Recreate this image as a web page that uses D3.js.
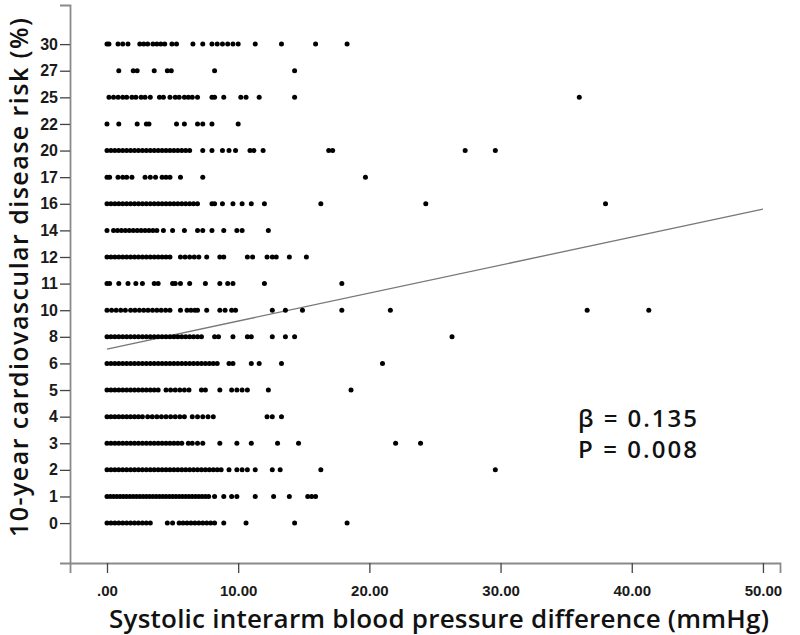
<!DOCTYPE html>
<html><head><meta charset="utf-8">
<script src="https://cdn.jsdelivr.net/npm/d3@7"></script>
<style>body{margin:0;background:#fff}</style>
</head><body>
<script>
const riskLevels = ["0","1","2","3","4","5","6","8","10","11","12","14","16","17","20","22","25","27","30"];
const xTickValues = [0,10,20,30,40,50];
const xTickLabels = [".00","10.00","20.00","30.00","40.00","50.00"];
// interarm difference values for each risk level (same order as riskLevels)
const diffByRisk = [
  [0,0.3,0.6,0.9,1.2,1.5,1.8,2.1,2.4,2.7,3.0,3.3,4.6,5.0,5.5,5.8,6.1,6.4,6.7,7.0,7.3,7.6,7.9,8.2,8.9,10.6,14.3,18.3],
  [0,0.25,0.5,0.75,1,1.25,1.5,1.75,2,2.25,2.5,2.75,3,3.25,3.5,3.75,4,4.25,4.5,4.75,5,5.25,5.5,5.75,6,6.25,6.5,6.75,7,7.25,7.5,7.75,8.2,8.9,9.5,9.9,11.3,12.7,13.9,15.3,15.6,15.9],
  [0,0.3,0.6,0.9,1.2,1.5,1.8,2.1,2.4,2.7,3,3.3,3.6,3.9,4.2,4.5,4.8,5.1,5.4,5.7,6,6.3,6.6,6.9,7.2,7.5,7.8,8.1,8.4,8.7,9.3,9.9,10.3,10.7,11.3,12.6,13.2,16.3,29.6],
  [0,0.3,0.6,0.9,1.2,1.5,1.8,2.1,2.4,2.7,3,3.3,3.6,3.9,4.2,4.5,4.8,5.1,5.4,5.7,6.2,6.5,6.9,7.3,8.6,9.9,11.0,13.0,14.6,22.0,23.9],
  [0,0.3,0.6,0.9,1.2,1.5,1.8,2.1,2.4,2.7,3.1,3.45,3.8,4.15,4.5,4.85,5.2,5.55,5.9,6.5,6.9,7.3,7.7,8.1,12.2,12.6,13.3],
  [0,0.3,0.6,0.9,1.2,1.5,1.8,2.1,2.4,2.7,3,3.3,3.6,3.9,4.5,4.85,5.2,5.55,5.9,6.25,7.2,7.5,8.6,9.5,9.9,10.3,10.7,12.3,18.6],
  [0,0.3,0.6,0.9,1.2,1.5,1.8,2.1,2.4,2.7,3,3.3,3.6,3.9,4.2,4.5,4.8,5.1,5.4,5.7,6,6.3,6.6,6.9,7.2,7.5,7.8,8.1,8.4,9.3,9.6,11.0,11.6,13.3,21.0],
  [0,0.3,0.6,0.9,1.2,1.5,1.8,2.1,2.4,2.7,3,3.3,3.6,3.9,4.2,4.5,4.8,5.1,5.4,5.7,6,6.3,6.6,6.9,7.2,8.2,8.5,9.6,10.7,11.0,12.6,13.6,14.3,26.3],
  [0,0.35,0.7,1.05,1.4,1.8,2.13,2.47,2.8,3.13,3.47,3.8,4.13,4.47,4.8,5.6,6.1,6.4,6.7,6.9,7.6,8.6,9.0,9.5,9.8,12.6,13.6,14.9,17.9,21.6,36.6,41.3],
  [0,0.2,0.9,1.6,2.2,2.7,3.6,3.9,5.0,5.2,5.6,6.3,7.5,8.6,9.2,9.6,12.0,17.9],
  [0,0.3,0.6,0.9,1.2,1.5,1.8,2.1,2.4,2.7,3,3.3,3.6,3.9,4.2,4.5,4.8,5.6,5.95,6.3,6.65,7.0,7.6,8.6,8.9,10.7,11.1,12.2,12.6,12.9,13.9,15.2],
  [0,0.5,0.8,1.1,1.4,1.7,2.0,2.3,2.6,2.9,3.2,3.5,3.8,4.3,5.0,5.9,6.9,7.3,8.0,8.9,9.9,10.3,12.3],
  [0,0.3,0.6,0.9,1.2,1.5,1.8,2.1,2.4,2.7,3,3.3,3.6,3.9,4.2,4.5,4.8,5.1,5.4,5.7,6,6.3,6.6,6.9,8.0,8.2,8.8,9.6,10.3,11.0,12.0,16.3,24.3,38.0],
  [0,0.2,0.84,1.2,1.5,1.9,2.9,3.3,3.7,4.2,4.5,4.8,5.6,7.3,19.7],
  [0,0.3,0.6,0.9,1.2,1.5,1.8,2.1,2.4,2.7,3,3.3,3.6,3.9,4.2,4.5,4.8,5.1,5.4,5.7,6,6.3,7.3,8.0,8.8,9.3,9.8,10.9,11.2,11.9,16.9,17.2,27.3,29.6],
  [0,0.9,2.3,3.0,3.2,5.3,5.9,6.9,7.3,8.0,10.0],
  [0.15,0.5,0.85,1.2,1.5,1.9,2.2,2.6,2.9,3.3,4.0,4.3,4.8,5.2,5.5,5.9,6.2,6.5,6.9,8.0,8.2,8.9,10.2,10.6,11.6,14.3,36.0],
  [0.9,2.0,2.3,3.6,4.6,4.9,8.2,14.3],
  [0,0.15,0.84,1.2,1.6,2.5,2.8,3.1,3.5,3.8,4.1,4.4,4.95,5.3,6.55,7.3,8.0,8.4,8.8,9.2,9.6,10.0,11.3,13.3,15.9,18.3]
];
// fit line endpoints (x value, y on rank scale)
const fitX = [0, 50];
const fitY = [6.54, 11.8];
const statLines = ["β = 0.135", "P = 0.008"];

const W = 800, H = 635;
const svg = d3.select("body").append("svg").attr("width", W).attr("height", H)
  .style("background", "#fff");

const x = d3.scaleLinear().domain([-2.82, 51.3]).range([70, 780]);
const y = d3.scaleLinear().domain([-1.5, 19.47]).range([563, 5]);

const axisColor = "#8a8a8a";
const tickFont = "'Liberation Sans', Arial, sans-serif";
const titleFont = "'Open Sans', 'Noto Sans', sans-serif";

// x axis
const gx = svg.append("g").attr("transform", "translate(0,563)")
  .call(d3.axisBottom(x).tickValues(xTickValues)
    .tickFormat((d, i) => xTickLabels[i]).tickSizeOuter(0).tickSize(10).tickPadding(12));
gx.select(".domain").attr("stroke", axisColor).attr("stroke-width", 1.8);
gx.selectAll(".tick line").attr("stroke", "#444").attr("stroke-width", 1.3);
gx.selectAll(".tick text").attr("fill", "#1a1a1a").style("font-family", tickFont)
  .style("font-size", "15px").style("font-weight", "bold");

// y axis
const gy = svg.append("g").attr("transform", "translate(70,0)")
  .call(d3.axisLeft(y).tickValues(d3.range(riskLevels.length))
    .tickFormat(i => riskLevels[i]).tickSizeOuter(0).tickSize(10).tickPadding(2));
gy.select(".domain").attr("stroke", axisColor).attr("stroke-width", 1.8);
gy.selectAll(".tick line").attr("stroke", "#444").attr("stroke-width", 1.3);
gy.selectAll(".tick text").attr("fill", "#1a1a1a").style("font-family", tickFont)
  .style("font-size", "16px").style("font-weight", "bold");

// fit line
svg.append("line")
  .attr("x1", x(fitX[0])).attr("y1", y(fitY[0]))
  .attr("x2", x(fitX[1])).attr("y2", y(fitY[1]))
  .attr("stroke", "#777").attr("stroke-width", 1.3);

// points
const pts = [];
diffByRisk.forEach((arr, i) => arr.forEach(v => pts.push({v, i})));
svg.append("g").selectAll("circle").data(pts).join("circle")
  .attr("cx", d => x(d.v)).attr("cy", d => y(d.i)).attr("r", 2.5).attr("fill", "#000");

// stats text
svg.append("g").selectAll("text").data(statLines).join("text")
  .attr("x", 578).attr("y", (d, i) => 427 + i * 31)
  .attr("textLength", 119).attr("lengthAdjust", "spacing")
  .style("font-family", titleFont)
  .style("font-size", "24px").style("font-weight", 600).attr("fill", "#111")
  .text(d => d);

// axis titles
svg.append("text").attr("x", 109).attr("y", 628)
  .attr("textLength", 660).attr("lengthAdjust", "spacing")
  .style("font-family", titleFont)
  .style("font-size", "26px").style("font-weight", 600).attr("fill", "#111")
  .text("Systolic interarm blood pressure difference (mmHg)");

svg.append("text").attr("transform", "translate(28,537) rotate(-90)")
  .attr("textLength", 519).attr("lengthAdjust", "spacing")
  .style("font-family", titleFont)
  .style("font-size", "25px").style("font-weight", 600).attr("fill", "#111")
  .text("10-year cardiovascular disease risk (%)");
</script>
</body></html>
